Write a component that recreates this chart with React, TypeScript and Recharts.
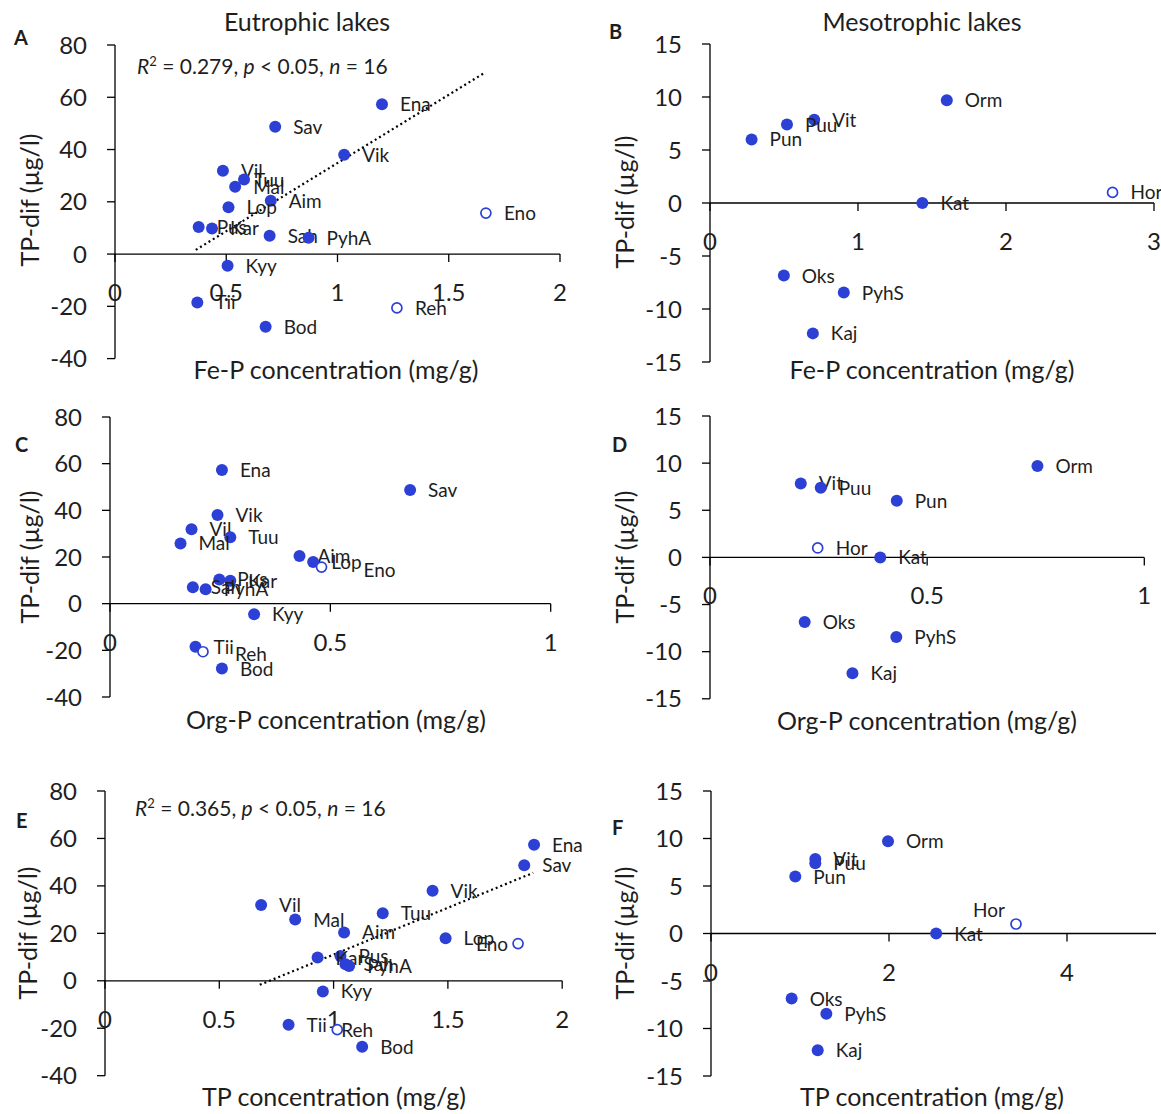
import React from "react";
import { ScatterChart, Scatter, XAxis, YAxis, ReferenceLine, ReferenceDot } from "recharts";

const FONT = "Lato, 'Open Sans', sans-serif";
const BLUE = "#2d40d6";
const INK = "#1e1e1e";

// eutrophic lakes
const eutroLakes = ["Ena", "Sav", "Vik", "Vil", "Tuu", "Mal", "Aim", "Lop", "Pus", "Kar", "Sah", "PyhA", "Kyy", "Tii", "Bod", "Reh", "Eno"];
const eutroTpDif = [57.3, 48.7, 38.0, 31.9, 28.5, 25.8, 20.4, 17.9, 10.4, 9.8, 7.0, 6.2, -4.5, -18.5, -27.8, -20.6, 15.7];
const eutroFeP = [1.2, 0.72, 1.03, 0.485, 0.58, 0.54, 0.7, 0.51, 0.376, 0.436, 0.695, 0.87, 0.506, 0.37, 0.677, 1.267, 1.667];
const eutroOrgP = [0.254, 0.681, 0.244, 0.185, 0.273, 0.16, 0.43, 0.461, 0.248, 0.273, 0.188, 0.217, 0.327, 0.194, 0.254, 0.211, 0.48];
const eutroTP = [1.877, 1.834, 1.433, 0.683, 1.215, 0.832, 1.046, 1.49, 1.03, 0.93, 1.052, 1.068, 0.953, 0.803, 1.125, 1.016, 1.807];

// mesotrophic lakes
const mesoLakes = ["Orm", "Vit", "Puu", "Pun", "Kat", "Hor", "Oks", "PyhS", "Kaj"];
const mesoTpDif = [9.7, 7.85, 7.4, 6.0, 0, 1.0, -6.85, -8.45, -12.3];
const mesoFeP = [1.6, 0.704, 0.52, 0.281, 1.435, 2.72, 0.499, 0.904, 0.695];
const mesoOrgP = [0.754, 0.209, 0.255, 0.43, 0.392, 0.248, 0.218, 0.429, 0.328];
const mesoTP = [1.989, 1.172, 1.172, 0.947, 2.53, 3.427, 0.906, 1.296, 1.199];

// lakes left out of the regressions (hollow markers)
const excludedLakes = ["Reh", "Eno", "Hor"];

const eutroTicksY = [-40, -20, 0, 20, 40, 60, 80];
const mesoTicksY = [-15, -10, -5, 0, 5, 10, 15];

// linear fits, end points
const trendFeP = [{ x: 0.363, y: 1.6 }, { x: 1.658, y: 69.2 }];
const trendTP = [{ x: 0.677, y: -1.7 }, { x: 1.873, y: 45.5 }];

const ML = 100;
const MT = 24;
const MR = 60;
const MB = 60;

type Shift = { dx?: number; dy?: number; anchor?: "start" | "end" };

function XTick({ cx, cy, value }: { cx: number; cy: number; value: number }) {
  return (
    <g>
      <line x1={cx} y1={cy} x2={cx} y2={cy + 8} stroke="#000" strokeWidth={1.3} />
      <text x={cx} y={cy + 47} textAnchor="middle" fontSize={24} fontFamily={FONT} fill={INK}>
        {value}
      </text>
    </g>
  );
}

function pointShape(hollow: boolean, shifts: Record<string, Shift>) {
  return (p: any) => {
    const name = p.payload?.name ?? p.name;
    const s = shifts[name] || {};
    const anchor = s.anchor ?? "start";
    return (
      <g>
        {hollow ? (
          <circle cx={p.cx} cy={p.cy} r={5} fill="#fff" stroke={BLUE} strokeWidth={1.7} />
        ) : (
          <circle cx={p.cx} cy={p.cy} r={6} fill={BLUE} />
        )}
        <text
          x={p.cx + (s.dx ?? 18)}
          y={p.cy + (s.dy ?? 7)}
          textAnchor={anchor}
          fontSize={19}
          fontFamily={FONT}
          fill={INK}
        >
          {name}
        </text>
      </g>
    );
  };
}

function Panel({
  plot,
  names,
  xs,
  ys,
  xDomain,
  xTicks,
  yTicks,
  trend,
  shifts = {}
}: {
  plot: { left: number; top: number; width: number; height: number };
  names: string[];
  xs: number[];
  ys: number[];
  xDomain: [number, number];
  xTicks: number[];
  yTicks: number[];
  trend?: { x: number; y: number }[];
  shifts?: Record<string, Shift>;
}) {
  const data = names.map((name, i) => ({ name, x: xs[i], y: ys[i] }));
  const filled = data.filter((d) => !excludedLakes.includes(d.name));
  const hollow = data.filter((d) => excludedLakes.includes(d.name));
  return (
    <div style={{ position: "absolute", left: plot.left - ML, top: plot.top - MT }}>
      <ScatterChart
        width={plot.width + ML + MR}
        height={plot.height + MT + MB}
        margin={{ top: MT, right: MR, bottom: MB, left: 0 }}
      >
        <XAxis type="number" dataKey="x" domain={xDomain} ticks={xTicks} hide />
        <YAxis
          type="number"
          dataKey="y"
          domain={[yTicks[0], yTicks[yTicks.length - 1]]}
          ticks={yTicks}
          interval={0}
          width={ML}
          axisLine={{ stroke: "#000", strokeWidth: 1.3 }}
          tickLine={{ stroke: "#000", strokeWidth: 1.3 }}
          tickSize={8}
          tickMargin={20}
          tick={{ fill: INK, fontSize: 24, fontFamily: FONT }}
        />
        <ReferenceLine y={0} stroke="#000" strokeWidth={1.3} />
        {xTicks.map((t) => (
          <ReferenceDot
            key={t}
            x={t}
            y={0}
            r={0}
            ifOverflow="visible"
            shape={(p: any) => <XTick cx={p.cx} cy={p.cy} value={t} />}
          />
        ))}
        {trend && (
          <ReferenceLine
            segment={trend}
            stroke="#000"
            strokeWidth={2.2}
            strokeDasharray="2 3"
            ifOverflow="visible"
          />
        )}
        <Scatter data={filled} shape={pointShape(false, shifts)} isAnimationActive={false} />
        <Scatter data={hollow} shape={pointShape(true, shifts)} isAnimationActive={false} />
      </ScatterChart>
    </div>
  );
}

function R2({ x, y, r2 }: { x: number; y: number; r2: string }) {
  return (
    <text x={x} y={y} fontSize={21} fontFamily={FONT} fill={INK}>
      <tspan fontStyle="italic">R</tspan>
      <tspan dy={-8} fontSize={13}>2</tspan>
      <tspan dy={8}>{` = ${r2}, `}</tspan>
      <tspan fontStyle="italic">p</tspan>
      <tspan>{" < 0.05, "}</tspan>
      <tspan fontStyle="italic">n</tspan>
      <tspan>{" = 16"}</tspan>
    </text>
  );
}

function YTitle({ x, y }: { x: number; y: number }) {
  return (
    <text x={x} y={y} transform={`rotate(-90, ${x}, ${y})`} textAnchor="middle" fontSize={25} fontFamily={FONT} fill={INK}>
      TP-dif (µg/l)
    </text>
  );
}

function XTitle({ x, y, children }: { x: number; y: number; children: string }) {
  return (
    <text x={x} y={y} textAnchor="middle" fontSize={25} fontFamily={FONT} fill={INK}>
      {children}
    </text>
  );
}

function Letter({ x, y, children }: { x: number; y: number; children: string }) {
  return (
    <text x={x} y={y} fontSize={20} fontWeight="bold" fontFamily={FONT} fill={INK}>
      {children}
    </text>
  );
}

export default function App() {
  return (
    <div style={{ position: "absolute", left: 0, top: 0, width: 1161, height: 1114, background: "#fff", overflow: "hidden" }}>
      <Panel
        plot={{ left: 115, top: 44.7, width: 445, height: 313.6 }}
        names={eutroLakes}
        xs={eutroFeP}
        ys={eutroTpDif}
        xDomain={[0, 2]}
        xTicks={[0, 0.5, 1, 1.5, 2]}
        yTicks={eutroTicksY}
        trend={trendFeP}
        shifts={{ Tuu: { dx: 10 } }}
      />
      <Panel
        plot={{ left: 710, top: 43.7, width: 444, height: 318 }}
        names={mesoLakes}
        xs={mesoFeP}
        ys={mesoTpDif}
        xDomain={[0, 3]}
        xTicks={[0, 1, 2, 3]}
        yTicks={mesoTicksY}
      />
      <Panel
        plot={{ left: 110, top: 416.7, width: 440.7, height: 280 }}
        names={eutroLakes}
        xs={eutroOrgP}
        ys={eutroTpDif}
        xDomain={[0, 1]}
        xTicks={[0, 0.5, 1]}
        yTicks={eutroTicksY}
        shifts={{ Eno: { dx: 42, dy: 10 }, Reh: { dx: 32, dy: 9 } }}
      />
      <Panel
        plot={{ left: 710, top: 416.3, width: 434.3, height: 282.8 }}
        names={mesoLakes}
        xs={mesoOrgP}
        ys={mesoTpDif}
        xDomain={[0, 1]}
        xTicks={[0, 0.5, 1]}
        yTicks={mesoTicksY}
      />
      <Panel
        plot={{ left: 104.5, top: 790.8, width: 457.2, height: 284.7 }}
        names={eutroLakes}
        xs={eutroTP}
        ys={eutroTpDif}
        xDomain={[0, 2]}
        xTicks={[0, 0.5, 1, 1.5, 2]}
        yTicks={eutroTicksY}
        trend={trendTP}
        shifts={{ Eno: { dx: -10, anchor: "end" }, Reh: { dx: 4 } }}
      />
      <Panel
        plot={{ left: 711, top: 790.8, width: 445, height: 285 }}
        names={mesoLakes}
        xs={mesoTP}
        ys={mesoTpDif}
        xDomain={[0, 5]}
        xTicks={[0, 2, 4]}
        yTicks={mesoTicksY}
        shifts={{ Hor: { dx: -11, dy: -7, anchor: "end" } }}
      />
      <svg width={1161} height={1114} style={{ position: "absolute", left: 0, top: 0, pointerEvents: "none" }}>
        <text x={307} y={31} textAnchor="middle" fontSize={25} fontFamily={FONT} fill={INK}>
          Eutrophic lakes
        </text>
        <text x={922} y={31} textAnchor="middle" fontSize={25} fontFamily={FONT} fill={INK}>
          Mesotrophic lakes
        </text>
        <Letter x={14} y={45}>A</Letter>
        <Letter x={609} y={39}>B</Letter>
        <Letter x={15} y={452}>C</Letter>
        <Letter x={612} y={452}>D</Letter>
        <Letter x={16} y={828}>E</Letter>
        <Letter x={612} y={835}>F</Letter>
        <R2 x={137} y={74} r2="0.279" />
        <R2 x={135} y={816} r2="0.365" />
        <YTitle x={39} y={200} />
        <YTitle x={634} y={202} />
        <YTitle x={39} y={557} />
        <YTitle x={634} y={557} />
        <YTitle x={37} y={933} />
        <YTitle x={634} y={933} />
        <XTitle x={336} y={379}>Fe-P concentration (mg/g)</XTitle>
        <XTitle x={932} y={379}>Fe-P concentration (mg/g)</XTitle>
        <XTitle x={336} y={729}>Org-P concentration (mg/g)</XTitle>
        <XTitle x={927} y={730}>Org-P concentration (mg/g)</XTitle>
        <XTitle x={334} y={1106}>TP concentration (mg/g)</XTitle>
        <XTitle x={932} y={1106}>TP concentration (mg/g)</XTitle>
      </svg>
    </div>
  );
}
